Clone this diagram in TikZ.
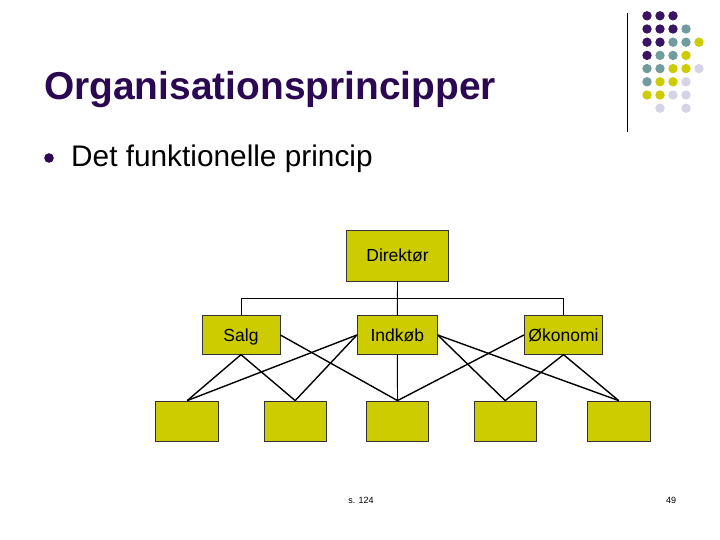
\documentclass[tikz,border=0pt]{standalone}
\usepackage{fontspec}
\setmainfont{Liberation Sans}
\definecolor{titlepurple}{RGB}{42,8,82}
\definecolor{dotpurple}{RGB}{58,20,100}
\definecolor{dotteal}{RGB}{112,156,158}
\definecolor{dotyellow}{RGB}{204,204,0}
\definecolor{dotlav}{RGB}{212,212,230}
\definecolor{boxfill}{RGB}{204,204,0}
\begin{document}
\begin{tikzpicture}[x=1pt,y=-1pt,
  orgbox/.style={draw=black!80,line width=0.8pt,fill=boxfill,rectangle,inner sep=0pt,
    text height=12.2pt,text depth=0pt,
    font=\fontsize{17.5}{20}\selectfont},
  thinline/.style={line width=0.9pt,black},
  diagline/.style={line width=1.4pt,black},
  logodot/.style={circle,inner sep=0pt,minimum size=9.4pt}]
\useasboundingbox (0,0) rectangle (720,540);
\fill[white] (0,0) rectangle (720,540);

% title
\node[anchor=base west,inner sep=0pt,text=titlepurple,font=\fontsize{38.9}{44}\selectfont\bfseries] (title) at (44,100) {Organisationsprincipper};
% bullet
\node[circle,fill=titlepurple,inner sep=0pt,minimum size=9.6pt] (bul) at (49,158) {};
\node[anchor=base west,inner sep=0pt,font=\fontsize{29.8}{34}\selectfont] (btext) at (71,167) {Det funktionelle princip};

% logo
\draw[line width=1pt] (627.3,12.7) coordinate (la) -- (627.3,132.3) coordinate (lb);
\foreach \r/\c/\col in {0/0/dotpurple,0/1/dotpurple,0/2/dotpurple,
  1/0/dotpurple,1/1/dotpurple,1/2/dotpurple,1/3/dotteal,
  2/0/dotpurple,2/1/dotpurple,2/2/dotteal,2/3/dotteal,2/4/dotyellow,
  3/0/dotpurple,3/1/dotteal,3/2/dotteal,3/3/dotyellow,
  4/0/dotteal,4/1/dotteal,4/2/dotyellow,4/3/dotyellow,4/4/dotlav,
  5/0/dotteal,5/1/dotyellow,5/2/dotyellow,5/3/dotlav,
  6/0/dotyellow,6/1/dotyellow,6/2/dotlav,6/3/dotlav,
  7/1/dotlav,7/3/dotlav}
  \node[logodot,fill=\col] (d\r\c) at ({647+13*\c},{15.8+13.2*\r}) {};

% org chart boxes
\node[orgbox,minimum width=101.6pt,minimum height=51pt] (dir) at (397.5,255.5) {Direktør};
\node[orgbox,minimum width=78pt,minimum height=38.5pt] (sal) at (241,335) {Salg};
\node[orgbox,minimum width=80pt,minimum height=38.5pt] (ind) at (397.3,335) {Indkøb};
\node[orgbox,minimum width=78.4pt,minimum height=38.5pt] (oko) at (563.5,335) {Økonomi};
\node[orgbox,minimum width=63pt,minimum height=40pt] (b1) at (187.2,421) {};
\node[orgbox,minimum width=62pt,minimum height=40pt] (b2) at (295.2,421) {};
\node[orgbox,minimum width=62pt,minimum height=40pt] (b3) at (397.5,421) {};
\node[orgbox,minimum width=62pt,minimum height=40pt] (b4) at (505.2,421) {};
\node[orgbox,minimum width=62.7pt,minimum height=40pt] (b5) at (618.7,421) {};

% tree connectors
\coordinate (bus) at (0,298.3);
\draw[thinline] (dir.south) -- (ind.north);
\draw[thinline] (sal.north) -- (sal.north |- bus) -- (oko.north |- bus) -- (oko.north);
\draw[thinline] (ind.south) -- (b3.north);

% diagonals
\draw[diagline] (sal.south) -- (b1.north);
\draw[diagline] (sal.south) -- (b2.north);
\draw[diagline] (sal.east) -- (b3.north);
\draw[diagline] (ind.west) -- (b1.north);
\draw[diagline] (ind.west) -- (b2.north);
\draw[diagline] (ind.east) -- (b4.north);
\draw[diagline] (ind.east) -- (b5.north);
\draw[diagline] (oko.west) -- (b3.north);
\draw[diagline] (oko.south) -- (b4.north);
\draw[diagline] (oko.south) -- (b5.north);

% footer
\node[anchor=base,inner sep=0pt,font=\fontsize{9}{11}\selectfont] (src) at (361,503) {s. 124};
\node[anchor=base,inner sep=0pt,font=\fontsize{9}{11}\selectfont] (pg) at (671,503) {49};
\end{tikzpicture}
\end{document}
